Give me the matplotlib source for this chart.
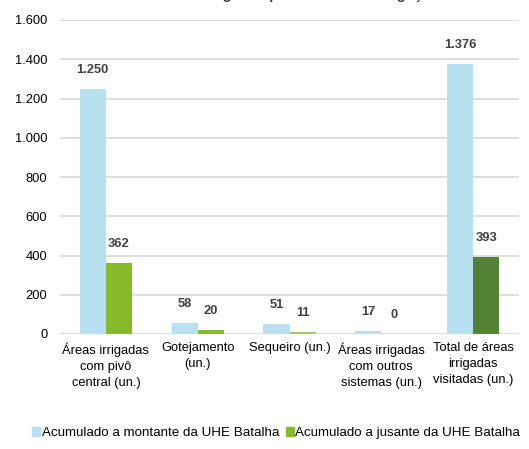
import matplotlib.pyplot as plt
import numpy as np
from matplotlib.patches import Patch

plt.rcParams['font.family'] = ['Liberation Sans', 'DejaVu Sans']

categorias = ['Áreas irrigadas\ncom pivô\ncentral (un.)', 'Gotejamento\n(un.)', 'Sequeiro (un.)',
              'Áreas irrigadas\ncom outros\nsistemas (un.)', 'Total de áreas\nirrigadas\nvisitadas (un.)']
montante = [1250, 58, 51, 17, 1376]
jusante = [362, 20, 11, 0, 393]
rotulos_mont = ['1.250', '58', '51', '17', '1.376']
rotulos_jus = ['362', '20', '11', '0', '393']

azul = '#B8E0F0'
verdes = ['#86BA2A', '#86BA2A', '#9DCB5C', '#86BA2A', '#548235']

fig = plt.figure(figsize=(5.29, 4.49), dpi=100)
ax = fig.add_axes([60/529, 1-334/449, 459/529, 314/449])

x = np.arange(len(categorias))
w = 0.285
ax.bar(x - w/2, montante, w, color=azul, zorder=2)
ax.bar(x + w/2, jusante, w, color=verdes, zorder=2)

for i in range(len(x)):
    ax.annotate(rotulos_mont[i], (x[i] - w/2, montante[i]), xytext=(0, 13.5),
                textcoords='offset points', ha='center', va='center',
                fontsize=9.3, fontweight='bold', color='#404040')
    ax.annotate(rotulos_jus[i], (x[i] + w/2, jusante[i]), xytext=(0, 13.5),
                textcoords='offset points', ha='center', va='center',
                fontsize=9.3, fontweight='bold', color='#404040')

ax.set_xlim(-0.5, 4.5)
ax.set_ylim(0, 1600)
ax.set_yticks(range(0, 1601, 200))
ax.set_yticklabels(['0', '200', '400', '600', '800', '1.000', '1.200', '1.400', '1.600'])
ax.set_xticks(x)
ax.set_xticklabels(categorias, fontsize=9.3, color='#000000', linespacing=1.45)
ax.tick_params(axis='y', labelsize=9.3, length=0, pad=9)
ax.tick_params(axis='x', length=0, pad=6)
ax.yaxis.grid(True, color='#D9D9D9', linewidth=1.2, zorder=0)
ax.set_axisbelow(True)
for s in ax.spines.values():
    s.set_visible(False)
ax.axhline(0, color='#D9D9D9', linewidth=1.2, zorder=1)

fig.text(0.565, 1.014, 'Áreas irrigadas por sistema de irrigação', ha='center', va='center',
         fontsize=10.5, fontweight='bold', color='#404040')

handles = [Patch(color=azul), Patch(color='#86BA2A')]
fig.legend(handles, ['Acumulado a montante da UHE Batalha', 'Acumulado a jusante da UHE Batalha'],
           loc='center', bbox_to_anchor=(276/529, 1-433/449), ncol=2, frameon=False, fontsize=9.6,
           handlelength=0.6, handleheight=0.6, handletextpad=0.1, columnspacing=0.5)

fig.savefig('out.png', dpi=100)
